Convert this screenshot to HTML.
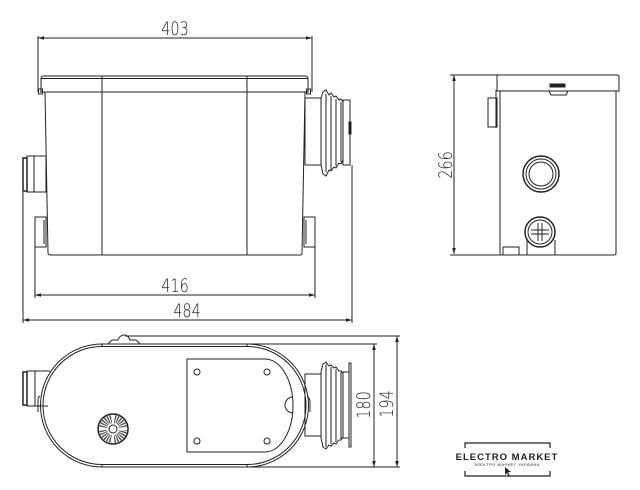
<!DOCTYPE html>
<html><head><meta charset="utf-8"><style>
html,body{margin:0;padding:0;background:#fff;width:640px;height:490px;overflow:hidden}
svg{display:block}
text{font-family:"Liberation Sans",sans-serif;fill:#222}
.d{font-family:"DejaVu Sans","Liberation Sans",sans-serif;font-size:17px;font-weight:200}
</style></head><body>
<svg width="640" height="490" viewBox="0 0 640 490" xmlns="http://www.w3.org/2000/svg" fill="none" stroke="#222" stroke-width="1">
<defs>
<marker id="a" viewBox="0 0 10 10" refX="10" refY="5" markerWidth="8" markerHeight="6" orient="auto-start-reverse"><path d="M0,2 L10,5 L0,8 Z" fill="#222" stroke="none"/></marker>
</defs>

<!-- FRONT VIEW -->
<line x1="38" y1="38" x2="312" y2="38" marker-start="url(#a)" marker-end="url(#a)"/>
<line x1="38" y1="36" x2="38" y2="92"/><line x1="312" y1="36" x2="312" y2="92"/>
<text class="d" text-anchor="middle" stroke="none" transform="translate(175,35) scale(0.85,1.1)">403</text>
<path d="M41,92 V79 Q41,76 44,76 H305 Q308,76 308,79 V92"/>
<line x1="41" y1="78.5" x2="308" y2="78.5"/>
<line x1="40" y1="92" x2="309" y2="92"/>
<rect x="38.5" y="89" width="4" height="5"/><rect x="306.5" y="89" width="4" height="5"/>
<path d="M45,92 L48,253 Q48,255 51,255 H300 Q302,255 302,253 L305,92"/>
<line x1="102" y1="76" x2="102" y2="255"/><line x1="247" y1="76" x2="247" y2="255"/>
<rect x="23" y="158" width="4" height="33" stroke-width="1.5"/>
<rect x="27" y="156" width="7" height="36"/>
<rect x="34" y="156" width="12" height="36"/>
<rect x="35" y="217" width="11" height="30"/><line x1="44" y1="220" x2="44" y2="244"/>
<rect x="304" y="217" width="11" height="30"/><line x1="306" y1="220" x2="306" y2="244"/>
<rect x="305" y="98" width="16" height="67"/>
<path d="M321,98 L323,92 L326,90 L329,95 L331,93 L334,97 L336,96 L339,100 L341,99 L343,102 V160 L341,164 L339,163 L336,168 L334,167 L331,171 L329,170 L326,176 L323,174 L321,165 Z"/>
<line x1="326" y1="94" x2="326" y2="172"/><line x1="331" y1="96" x2="331" y2="170"/><line x1="336" y1="99" x2="336" y2="166"/><line x1="341" y1="102" x2="341" y2="162"/>
<rect x="343" y="100" width="7" height="65"/>
<rect x="349" y="122" width="2" height="12"/>
<line x1="35" y1="247" x2="35" y2="298"/><line x1="315" y1="247" x2="315" y2="298"/>
<line x1="35" y1="295" x2="315" y2="295" marker-start="url(#a)" marker-end="url(#a)"/>
<text class="d" text-anchor="middle" stroke="none" transform="translate(175,292) scale(0.85,1.1)">416</text>
<line x1="23" y1="192" x2="23" y2="323"/><line x1="352" y1="165" x2="352" y2="323"/>
<line x1="23" y1="320" x2="352" y2="320" marker-start="url(#a)" marker-end="url(#a)"/>
<text class="d" text-anchor="middle" stroke="none" transform="translate(187,317) scale(0.85,1.1)">484</text>

<!-- SIDE VIEW -->
<line x1="454" y1="75" x2="454" y2="254" marker-start="url(#a)" marker-end="url(#a)"/>
<line x1="450" y1="75" x2="497" y2="75"/><line x1="450" y1="255" x2="503" y2="255"/>
<text class="d" text-anchor="middle" stroke="none" transform="translate(452,165) rotate(-90) scale(0.85,1.1)">266</text>
<path d="M497,91 V75 H617 Q619,75 619,77 V91 Z"/>
<path d="M500,91 V255 H614 Q616,255 616,253 V91"/>
<rect x="488" y="98" width="9" height="29"/><line x1="496" y1="90" x2="496" y2="128"/>
<rect x="550" y="84" width="15" height="3" fill="#222"/>
<path d="M549,91 L551,95 H566 L568,91"/>
<circle cx="541" cy="174" r="18" stroke-width="1.5"/><circle cx="541" cy="174" r="15"/><circle cx="541" cy="174" r="12"/>
<path d="M527,255 V240"/><path d="M555,255 V240"/>
<circle cx="540" cy="232" r="15" stroke-width="1.5"/><circle cx="540" cy="232" r="12"/>
<path d="M531,230 H549 M531,234 H549 M538,223 V241 M542,223 V241"/>
<rect x="503" y="247" width="16" height="8"/>

<!-- TOP VIEW -->
<line x1="125" y1="336" x2="400" y2="336"/>
<line x1="250" y1="344" x2="377" y2="344"/>
<line x1="250" y1="467" x2="400" y2="467"/>
<line x1="374" y1="344" x2="374" y2="467" marker-start="url(#a)" marker-end="url(#a)"/>
<line x1="397" y1="336" x2="397" y2="467" marker-start="url(#a)" marker-end="url(#a)"/>
<text class="d" text-anchor="middle" stroke="none" transform="translate(370,405) rotate(-90) scale(0.85,1.1)">180</text>
<text class="d" text-anchor="middle" stroke="none" transform="translate(393,404) rotate(-90) scale(0.85,1.1)">194</text>
<path d="M102,344 H247 A61.5,61.5 0 0 1 247,467 H102 A61.5,61.5 0 0 1 102,344 Z"/>
<path d="M102,346.5 H247 A59,59 0 0 1 247,464.5 H102 A59,59 0 0 1 102,346.5 Z"/>
<line x1="102" y1="344" x2="102" y2="347"/><line x1="247" y1="344" x2="247" y2="347"/>
<line x1="102" y1="464" x2="102" y2="467"/><line x1="247" y1="464" x2="247" y2="467"/>
<path d="M108,344 L112,340 H118 Q120,335 124,335 Q128,335 130,340 H136 L140,344"/>
<path d="M187,359 H265 A28,46.5 0 0 1 265,452 H187 Z"/>
<circle cx="197" cy="372" r="3"/><circle cx="267" cy="372" r="3"/><circle cx="197" cy="441" r="3"/><circle cx="267" cy="441" r="3"/>
<path d="M293,397 A8,8 0 0 0 293,413"/>
<circle cx="113" cy="429" r="10" stroke-width="8" stroke="#555" stroke-dasharray="1.2 1"/>
<path d="M113,414 V425 M113,433 V444 M98,429 H109 M117,429 H128" stroke="#fff" stroke-width="2"/>
<circle cx="113" cy="429" r="15" stroke-width="1.5"/>
<circle cx="113" cy="429" r="4" fill="#fff"/>
<rect x="23" y="372" width="4" height="33" stroke-width="1.5"/>
<rect x="27" y="371" width="8" height="35"/>
<path d="M35,371 H50 M35,406 H48"/>
<path d="M40,396 Q38,397 38,400 V412"/>
<rect x="305" y="374" width="16" height="62"/>
<path d="M321,372 L323,364 L326,362 L329,366 L331,365 L334,368 L336,367 L339,371 L341,371 L343,373 V437 L341,440 L339,440 L336,444 L334,443 L331,446 L329,445 L326,449 L323,447 L321,438 Z"/>
<line x1="326" y1="364" x2="326" y2="447"/><line x1="331" y1="367" x2="331" y2="444"/><line x1="336" y1="369" x2="336" y2="442"/><line x1="341" y1="372" x2="341" y2="439"/>
<rect x="343" y="372" width="6" height="66"/>
<rect x="349" y="363" width="2" height="84"/>
<path d="M307,396 Q310,398 310,402 V412"/>

<!-- LOGO -->
<path d="M465,448 V443 H550 V448 M465,471 V476 H550 V471" stroke-width="1.2"/>
<text x="507" y="460" text-anchor="middle" stroke="none" font-size="9.5" font-weight="bold" letter-spacing="1">ELECTRO MARKET</text>
<text x="507" y="466" text-anchor="middle" stroke="none" font-size="4" letter-spacing="0.5">ЭЛЕКТРО МАРКЕТ УКРАИНА</text>
<path d="M505,467 L505,475 L507,473 L509,477 L510,476 L508,472 L511,472 Z" fill="#222" stroke="none"/>
</svg>
</body></html>
